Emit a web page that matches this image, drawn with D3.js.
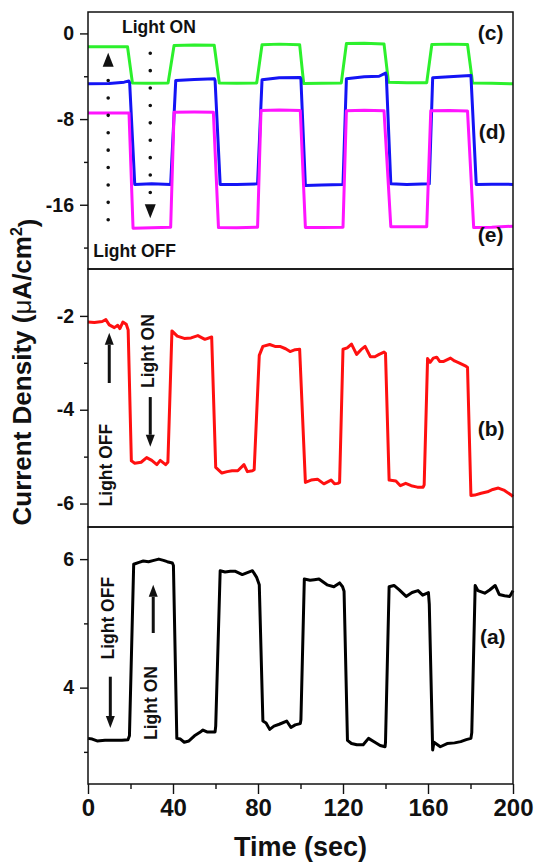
<!DOCTYPE html>
<html>
<head>
<meta charset="utf-8">
<script src="https://cdn.jsdelivr.net/npm/d3@7"></script>
<style>
  body { margin: 0; background: #fff; }
  svg { display: block; font-family: "Liberation Sans", Arial, sans-serif; font-weight: bold; }
  .tick text { font-family: "Liberation Sans", Arial, sans-serif; font-weight: bold; fill: #111; }
  .tick line { stroke: #111; stroke-width: 1.4; }
</style>
</head>
<body>
<div id="chart-container"></div>
<script>
// Configuration
const width = 536;
const height = 863;
const plotLeft = 88;
const plotRight = 513;
const panelTops = [12, 269, 527];
const panelBottoms = [269, 527, 784];

// --- Data: [time (s), current density (uA/cm^2)] ---
const curveC = [[0,-1.25],[10,-1.25],[18.6,-1.25],[20.9,-4.62],[28,-4.65],[37.7,-4.62],[40.5,-1.12],[50,-1.08],
  [59.4,-1.1],[61.8,-4.64],[70,-4.66],[79.4,-4.62],[81.9,-1.05],[90,-1.0],[99.6,-1.05],[101.5,-4.68],[110,-4.66],
  [119.2,-4.62],[121.6,-0.95],[130,-0.92],[139.3,-0.98],[141.4,-4.55],[150,-4.6],[159.4,-4.6],[161.8,-1.04],
  [170,-1.0],[178.6,-1.04],[181,-4.64],[190,-4.66],[200,-4.7]];

const curveD = [[0,-4.7],[10,-4.68],[17,-4.55],[19.2,-4.45],[19.6,-4.6],[22,-14.1],[30,-14.05],[38.9,-14.1],
  [41.3,-4.39],[50,-4.3],[59.5,-4.24],[59.8,-4.4],[62.2,-14.1],[70,-14.1],[79.8,-14.05],[81.9,-4.33],[90,-4.14],
  [99.9,-4.12],[100.2,-4.3],[102.3,-14.2],[110,-14.15],[120,-14.1],[121.6,-4.24],[130,-4.05],[137,-4.0],[140,-3.7],
  [140.4,-4.0],[142.5,-14.05],[150,-14.1],[160.6,-14.05],[162.2,-4.14],[170,-4.05],[178,-3.95],[180.2,-3.92],
  [182.7,-14.1],[190,-14.08],[200,-14.1]];

const curveE = [[0,-7.44],[10,-7.44],[19.3,-7.44],[21.2,-18.2],[30,-18.15],[38.9,-18.1],[40.5,-7.37],[50,-7.35],
  [59,-7.37],[61.4,-18.13],[70,-18.15],[79.8,-18.1],[81.4,-7.2],[90,-7.15],[99.9,-7.2],[102.3,-18.13],[110,-18.13],
  [120,-18.1],[121.6,-7.22],[130,-7.18],[139.3,-7.22],[142.5,-18.05],[150,-18.05],[159.4,-18.05],[161.3,-7.22],
  [170,-7.2],[178.6,-7.25],[181.5,-18.13],[190,-18.1],[200,-18.0]];

const curveB = [[0,-2.13],[3,-2.14],[6.7,-2.12],[8.4,-2.08],[10,-2.19],[12.4,-2.25],[14,-2.2],[15,-2.27],
  [16.4,-2.13],[18,-2.18],[18.9,-2.3],[20.4,-5.09],[22,-5.14],[25,-5.12],[27.6,-5.02],[30,-5.08],[32.4,-5.17],
  [34,-5.08],[36.5,-5.17],[37.6,-5.12],[39.5,-2.32],[42,-2.43],[45.3,-2.48],[48.5,-2.47],[51.7,-2.42],[55,-2.5],
  [58.2,-2.45],[60.1,-5.23],[63,-5.35],[65.5,-5.32],[67.8,-5.3],[70.5,-5.3],[73.4,-5.17],[75,-5.32],[77.4,-5.3],
  [78.2,-5.28],[80.6,-2.84],[82.3,-2.65],[85.5,-2.61],[88,-2.65],[90.3,-2.65],[93,-2.7],[95.1,-2.76],[97.5,-2.72],
  [99.6,-2.71],[102.3,-5.55],[105,-5.5],[108,-5.48],[111,-5.58],[114.4,-5.5],[116,-5.58],[117.6,-5.57],
  [118.4,-5.55],[120,-2.71],[122,-2.68],[124,-2.6],[126.4,-2.82],[128.5,-2.72],[130.4,-2.65],[132.9,-2.87],
  [135,-2.87],[137,-2.82],[139.3,-2.77],[140,-2.8],[141.7,-5.5],[144.9,-5.52],[147,-5.62],[149.5,-5.57],
  [152.1,-5.62],[155,-5.65],[157.7,-5.65],[158.2,-5.6],[159.8,-2.91],[161,-2.99],[162.5,-2.9],[164.1,-2.88],
  [165.5,-2.97],[167.4,-2.97],[170.6,-2.9],[172.5,-2.96],[174.6,-3.0],[177.8,-3.07],[178.6,-3.1],[180.2,-5.83],
  [182,-5.82],[185,-5.78],[188,-5.75],[190.5,-5.7],[193.1,-5.67],[196,-5.72],[199.5,-5.83],[200,-5.85]];

const curveA = [[0,3.21],[2,3.2],[4.3,3.17],[8,3.18],[12,3.18],[16,3.18],[18.8,3.19],[19.5,3.25],[21.5,5.92],
  [24,5.95],[26,5.97],[28.5,5.96],[31,5.98],[33.3,6.0],[35.5,5.98],[37.3,5.96],[39.7,5.94],[40.2,5.9],[41.8,3.21],
  [43.5,3.2],[45.3,3.15],[47.5,3.17],[50.1,3.25],[52.5,3.3],[54.1,3.34],[56,3.31],[58,3.31],[59.8,3.31],[60.1,3.4],
  [62.2,5.82],[64.5,5.8],[67,5.81],[69.4,5.81],[72.6,5.76],[75,5.79],[77.4,5.82],[79.3,5.72],[80.6,5.6],[82.3,3.48],
  [83.8,3.45],[85.5,3.35],[87.5,3.4],[90,3.43],[93.5,3.48],[95.5,3.38],[97.5,3.42],[99.9,3.44],[100.2,3.5],
  [101.8,5.69],[104.5,5.67],[106.5,5.68],[108.7,5.69],[112.5,5.6],[115.7,5.57],[118.4,5.63],[119.8,5.57],
  [120.5,5.5],[122.1,3.18],[124,3.13],[126.5,3.11],[129.5,3.11],[132,3.21],[135,3.15],[137.5,3.1],[139.8,3.08],
  [140,3.15],[141.7,5.57],[144,5.59],[146.5,5.52],[149.7,5.42],[152.5,5.48],[155.3,5.51],[157.5,5.44],
  [160.2,5.48],[160.6,5.3],[162.2,3.03],[162.8,3.15],[165.8,3.08],[169,3.13],[172.5,3.14],[175.4,3.16],
  [178,3.19],[180.2,3.21],[180.6,3.3],[182.2,5.59],[183.5,5.51],[186.7,5.47],[189,5.52],[191.6,5.59],
  [193.5,5.45],[196,5.43],[198.5,5.42],[200,5.51]];

// Axis ranges and ticks per panel (top to bottom)
const yDomains = [[-22, 2], [-6.5, -1], [2.5, 6.5]];
const yMajorTicks = [[0, -8, -16], [-2, -4, -6], [6, 4]];
const yMinorTicks = [[-4, -12, -20], [-3, -5], [5, 3]];
const xMajorTicks = [0, 40, 80, 120, 160, 200];
const xMinorTicks = [20, 60, 100, 140, 180];

const svg = d3.select("#chart-container")
    .append("svg")
    .attr("width", width)
    .attr("height", height);

const x = d3.scaleLinear().domain([0, 200]).range([plotLeft, plotRight]);
const yScales = yDomains.map((dom, i) =>
    d3.scaleLinear().domain(dom).range([panelBottoms[i], panelTops[i]]));

const line = y => d3.line().x(d => x(d[0])).y(d => y(d[1]));

// Panels: series drawn in each one
const panels = [
    [{ data: curveC, color: "#2cf02c" }, { data: curveD, color: "#1414f5" }, { data: curveE, color: "#ff14ff" }],
    [{ data: curveB, color: "#ff1010" }],
    [{ data: curveA, color: "#000000" }]
];

panels.forEach((series, i) => {
    const y = yScales[i];

    // y axis, major then minor ticks
    svg.append("g")
        .attr("transform", `translate(${plotLeft},0)`)
        .style("font-size", "19.5px")
        .call(d3.axisLeft(y).tickValues(yMajorTicks[i]).tickSize(8).tickPadding(6).tickFormat(d => String(d)))
        .call(g => g.select(".domain").remove());
    svg.append("g")
        .attr("transform", `translate(${plotLeft},0)`)
        .call(d3.axisLeft(y).tickValues(yMinorTicks[i]).tickSize(4).tickFormat(""))
        .call(g => g.select(".domain").remove());

    series.forEach(s => {
        svg.append("path")
            .datum(s.data)
            .attr("fill", "none")
            .attr("stroke", s.color)
            .attr("stroke-width", 3)
            .attr("stroke-linejoin", "round")
            .attr("d", line(y));
    });

    svg.append("rect")
        .attr("x", plotLeft)
        .attr("y", panelTops[i])
        .attr("width", plotRight - plotLeft)
        .attr("height", panelBottoms[i] - panelTops[i])
        .attr("fill", "none")
        .attr("stroke", "#111")
        .attr("stroke-width", 1.5);
});

// x axis on the bottom panel only
const xAxisY = panelBottoms[2];
svg.append("g")
    .attr("transform", `translate(0,${xAxisY})`)
    .style("font-size", "24px")
    .call(d3.axisBottom(x).tickValues(xMajorTicks).tickSize(10).tickPadding(5).tickFormat(d => String(d)))
    .call(g => g.select(".domain").remove());
svg.append("g")
    .attr("transform", `translate(0,${xAxisY})`)
    .call(d3.axisBottom(x).tickValues(xMinorTicks).tickSize(5).tickFormat(""))
    .call(g => g.select(".domain").remove());

// Axis titles
svg.append("text")
    .attr("x", (plotLeft + plotRight) / 2)
    .attr("y", 856)
    .attr("text-anchor", "middle")
    .style("font-size", "27px")
    .attr("fill", "#111")
    .text("Time (sec)");

const yTitle = svg.append("text")
    .attr("transform", "translate(31,372) rotate(-90)")
    .attr("text-anchor", "middle")
    .style("font-size", "26px")
    .attr("fill", "#111");
yTitle.append("tspan").text("Current Density (");
yTitle.append("tspan").style("font-weight", "normal").text("\u03bc");
yTitle.append("tspan").text("A/cm");
yTitle.append("tspan").attr("dy", "-0.55em").style("font-size", "16px").text("2");
yTitle.append("tspan").attr("dy", "0.55em").text(")");

// --- Annotations ---
function addText(panel, t, v, label, opts = {}) {
    const px = x(t), py = yScales[panel](v);
    svg.append("text")
        .attr("transform", opts.rotate ? `translate(${px},${py}) rotate(-90)` : `translate(${px},${py})`)
        .attr("text-anchor", opts.anchor || "start")
        .style("font-size", (opts.size || 17.5) + "px")
        .attr("fill", "#111")
        .text(label);
}

// Arrow from (t, v0) to its tip at (t, v1); dotted for the top panel
function addArrow(panel, t, v0, v1, dotted) {
    const y = yScales[panel];
    const px = x(t), y0 = y(v0), y1 = y(v1);
    const dir = Math.sign(y1 - y0);
    const headLen = dotted ? 14 : 12, headW = dotted ? 5.5 : 4.5;
    const base = y1 - dir * headLen;
    svg.append("line")
        .attr("x1", px).attr("x2", px)
        .attr("y1", y0).attr("y2", dotted ? base - dir * 8 : base)
        .attr("stroke", "#111")
        .attr("stroke-width", dotted ? 3.6 : 3)
        .attr("stroke-linecap", dotted ? "round" : "butt")
        .attr("stroke-dasharray", dotted ? "0 17.4" : null);
    svg.append("path")
        .attr("d", `M${px},${y1}L${px - headW},${base}L${px + headW},${base}Z`)
        .attr("fill", "#111");
}

// panel (c)-(e)
addText(0, 16, 0.05, "Light ON");
addText(0, 2.5, -20.9, "Light OFF");
addText(0, 195.5, -0.6, "(c)", { anchor: "end", size: 21 });
addText(0, 196.5, -9.85, "(d)", { anchor: "end", size: 21 });
addText(0, 195.5, -19.5, "(e)", { anchor: "end", size: 21 });
addArrow(0, 9.5, -17.4, -1.8, true);
addArrow(0, 29.3, -1.85, -17.25, true);

// panel (b)
addArrow(1, 10.0, -3.43, -2.36, false);
addText(1, 11.4, -5.18, "Light OFF", { rotate: true, anchor: "middle" });
addText(1, 30.9, -2.75, "Light ON", { rotate: true, anchor: "middle" });
addArrow(1, 29.3, -3.73, -4.79, false);
addText(1, 196, -4.56, "(b)", { anchor: "end", size: 21 });

// panel (a)
addText(2, 12.4, 5.08, "Light OFF", { rotate: true, anchor: "middle" });
addArrow(2, 10.5, 4.17, 3.37, false);
addText(2, 32.6, 3.76, "Light ON", { rotate: true, anchor: "middle" });
addArrow(2, 30.7, 4.85, 5.6, false);
addText(2, 196.5, 4.68, "(a)", { anchor: "end", size: 21 });
</script>
</body>
</html>
